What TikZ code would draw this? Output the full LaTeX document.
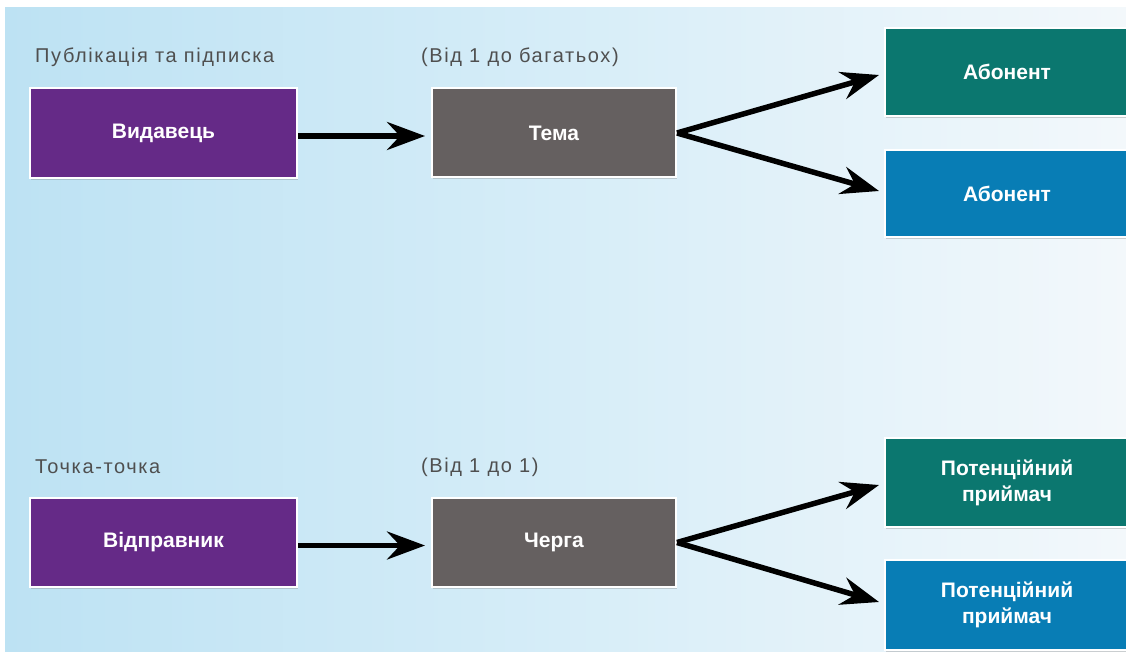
\documentclass[tikz,border=0pt]{standalone}
\usepackage{fontspec}
\setmainfont{Liberation Sans}
\newfontfamily\lblfont[LetterSpace=8]{Liberation Sans}
\usetikzlibrary{arrows.meta,shadows}
\definecolor{bgL}{HTML}{BDE2F3}
\definecolor{bgM}{HTML}{D6EDF8}
\definecolor{bgR}{HTML}{F3F8FB}
\definecolor{cPurple}{HTML}{652A87}
\definecolor{cGray}{HTML}{656060}
\definecolor{cTeal}{HTML}{0B776F}
\definecolor{cBlue}{HTML}{087DB5}
\definecolor{cLabel}{HTML}{4F4F4F}
\tikzset{
  box/.style={draw=white, line width=2pt, text=white, font=\bfseries\fontsize{21}{26}\selectfont,
    align=center, inner sep=0pt, drop shadow={shadow xshift=1pt, shadow yshift=-2pt, opacity=0.35}},
  lbl/.style={text=cLabel, font=\lblfont\fontsize{20}{22}\selectfont, anchor=west, inner sep=0pt},
  arr/.style={line width=5.5pt, -{Stealth[length=38pt,width=28pt,inset=13pt]}, black}
}
\begin{document}
\begin{tikzpicture}[x=1pt,y=-1pt]
\useasboundingbox (0,0) rectangle (1126,652);
\fill[white] (0,0) rectangle (1126,652);
\shade[left color=bgL, right color=bgM] (5,8) rectangle (560,652);
\shade[left color=bgM, right color=bgR] (560,8) rectangle (1126,652);

% top row
\node[lbl] (l1) at (35,57) {Публікація та підписка};
\node[lbl] (l2) at (421,57) {(Від 1 до багатьох)};
\node[box, fill=cPurple, minimum width=267, minimum height=90] (pub) at (163.5,133) {Видавець};
\node[box, fill=cGray, minimum width=244, minimum height=89] (topic) at (554,133) {Тема};
\node[box, fill=cTeal, minimum width=244, minimum height=88] (s1) at (1007,72) {Абонент};
\node[box, fill=cBlue, minimum width=244, minimum height=87] (s2) at (1007,193.5) {Абонент};
\coordinate (t1) at (879,75);
\coordinate (t2) at (879,191);
\draw[arr, shorten >=6pt] ([yshift=-3pt]pub.east) -- ([yshift=-3pt]topic.west);
\draw[arr] (topic.east) -- (t1);
\draw[arr] (topic.east) -- (t2);

% bottom row
\node[lbl] (l3) at (35,467) {Точка-точка};
\node[lbl] (l4) at (421,467) {(Від 1 до 1)};
\node[box, fill=cPurple, minimum width=267, minimum height=89] (snd) at (163.5,542.5) {Відправник};
\node[box, fill=cGray, minimum width=244, minimum height=89] (q) at (554,542.5) {Черга};
\node[box, fill=cTeal, minimum width=244, minimum height=89] (r1) at (1007,482.5) {Потенційний\\приймач};
\node[box, fill=cBlue, minimum width=244, minimum height=90] (r2) at (1007,605) {Потенційний\\приймач};
\coordinate (u1) at (879,485);
\coordinate (u2) at (879,602);
\draw[arr, shorten >=6pt] ([yshift=-3pt]snd.east) -- ([yshift=-3pt]q.west);
\draw[arr] (q.east) -- (u1);
\draw[arr] (q.east) -- (u2);
\end{tikzpicture}
\end{document}
